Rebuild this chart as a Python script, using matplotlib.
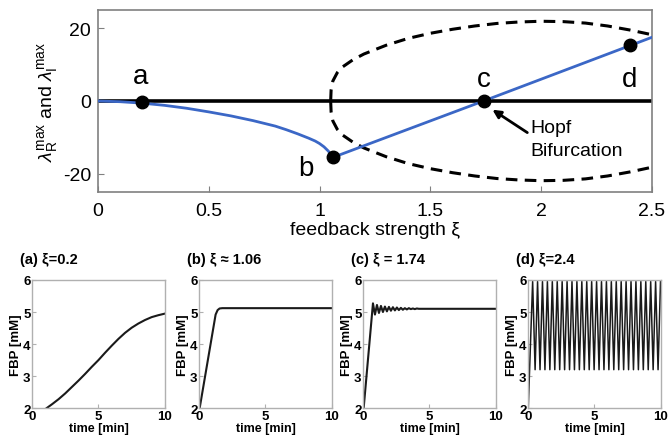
import matplotlib
matplotlib.use("Agg")
import matplotlib.pyplot as plt

plt.rcParams['font.family'] = ['Liberation Sans', 'DejaVu Sans']
plt.rcParams['mathtext.fontset'] = 'custom'
plt.rcParams['mathtext.rm'] = 'Liberation Sans'
plt.rcParams['mathtext.it'] = 'Liberation Sans:italic'
plt.rcParams['axes.unicode_minus'] = False

# --- top panel: max eigenvalue parts vs feedback strength ---
xi_re1 = [0, 0.1, 0.2, 0.3, 0.4, 0.5, 0.6, 0.7, 0.8, 0.85, 0.9, 0.95, 0.98, 1.0,
          1.02, 1.04, 1.05, 1.055, 1.06]
lam_re1 = [0, -0.2, -0.6, -1.2, -2.0, -3.0, -4.1, -5.4, -6.9, -7.9, -9.0, -10.2, -11.0,
           -11.7, -12.6, -13.8, -14.6, -15.1, -15.5]
xi_re2 = [1.06, 1.74, 2.5]
lam_re2 = [-15.5, 0, 17.5]
xi_im = [1.05, 1.052, 1.06, 1.08, 1.1, 1.15, 1.2, 1.3, 1.4, 1.5, 1.6, 1.7, 1.8, 1.9,
         2.0, 2.1, 2.2, 2.3, 2.4, 2.5]
lam_im = [0, 3, 5.5, 7.8, 9.2, 11.3, 12.9, 15.3, 17.2, 18.6, 19.7, 20.6, 21.3, 21.7,
          21.9, 21.8, 21.4, 20.6, 19.5, 18.2]
pt_labels = ['a', 'b', 'c', 'd']
pt_xi = [0.2, 1.06, 1.74, 2.4]
pt_lam = [-0.3, -15.5, 0, 15.5]

# --- bottom panels: FBP time courses ---
titles = ['(a) ξ=0.2', '(b) ξ ≈ 1.06', '(c) ξ = 1.74', '(d) ξ=2.4']
t_a = [1.1, 1.5, 2, 2.5, 3, 3.5, 4, 4.5, 5, 5.5, 6, 6.5, 7, 7.5, 8, 8.5, 9, 9.5, 10]
fbp_a = [2.0, 2.12, 2.28, 2.46, 2.66, 2.86, 3.07, 3.29, 3.5, 3.73, 3.95, 4.16, 4.35,
         4.51, 4.64, 4.75, 4.84, 4.9, 4.95]
t_b = [0.05, 1.25, 1.4, 1.55, 1.75, 10]
fbp_b = [2.0, 4.92, 5.06, 5.11, 5.12, 5.12]
t_c = [0.05, 0.75, 0.9, 1.05, 1.2, 1.35, 1.5, 1.65, 1.8, 1.95, 2.1, 2.25, 2.4, 2.55,
       2.7, 2.85, 3.0, 3.15, 3.3, 3.45, 3.6, 3.75, 3.9, 4.05, 4.2, 4.35, 10]
fbp_c = [2.0, 5.27, 4.92, 5.22, 4.97, 5.19, 5.0, 5.17, 5.02, 5.16, 5.04, 5.15, 5.05,
         5.14, 5.06, 5.13, 5.07, 5.12, 5.08, 5.12, 5.09, 5.11, 5.09, 5.11, 5.1, 5.1, 5.1]
peaks_d = [0.35, 0.72, 1.09, 1.46, 1.83, 2.2, 2.57, 2.94, 3.31, 3.68, 4.05, 4.42, 4.79,
           5.16, 5.53, 5.9, 6.27, 6.64, 7.01, 7.38, 7.75, 8.12, 8.49, 8.86, 9.23, 9.6, 9.97]
d_high = 5.95
d_low = 3.2

# build (d) polyline from the read peak times
t_d = [0.02]
fbp_d = [2.0]
for i, p in enumerate(peaks_d):
    t_d.append(p)
    fbp_d.append(d_high)
    if i + 1 < len(peaks_d):
        t_d.append((p + peaks_d[i + 1]) / 2)
        fbp_d.append(d_low)

fig = plt.figure(figsize=(6.68, 4.39), dpi=100)

frame_top = '#808080'
ax = fig.add_axes([0.1467, 0.5604, 0.8293, 0.4146])
ax.axhline(0, color='black', lw=2.6, zorder=2)
ax.plot(xi_im, lam_im, color='black', lw=2.2, dashes=(3.8, 2.4), zorder=2)
ax.plot(xi_im, [-v for v in lam_im], color='black', lw=2.2, dashes=(3.8, 2.4), zorder=2)
blue = '#3b67c6'
ax.plot(xi_re1, lam_re1, color=blue, lw=2, zorder=3)
ax.plot(xi_re2, lam_re2, color=blue, lw=2, zorder=3)
ax.plot(pt_xi, pt_lam, 'o', color='black', ms=9, zorder=4)
label_pos = [(0.19, 6.8), (0.94, -18.5), (1.74, 6.0), (2.4, 6.0)]
for lab, (lx, ly) in zip(pt_labels, label_pos):
    ax.text(lx, ly, lab, fontsize=20, ha='center', va='center')
ax.annotate('Hopf\nBifurcation', xy=(1.78, -2.4), xytext=(1.95, -10.5),
            fontsize=14, ha='left', va='center', linespacing=1.45,
            arrowprops=dict(arrowstyle='-|>', color='black', lw=2, mutation_scale=12,
                            shrinkA=0, shrinkB=0, relpos=(0, 0.62)))
ax.set_xlim(0, 2.5)
ax.set_ylim(-25, 25)
ax.set_xticks([0, 0.5, 1, 1.5, 2, 2.5])
ax.set_xticklabels(['0', '0.5', '1', '1.5', '2', '2.5'])
ax.set_yticks([-20, 0, 20])
ax.tick_params(direction='in', length=4, color=frame_top, labelsize=14, pad=5)
ax.tick_params(axis='x', pad=7)
for s in ax.spines.values():
    s.set_color(frame_top)
    s.set_linewidth(1.2)
ax.set_xlabel('feedback strength ξ', fontsize=14, labelpad=2)
ax.set_ylabel(r'$\lambda_{\rm R}^{\rm max}$ and $\lambda_{\rm I}^{\rm max}$', fontsize=14, labelpad=2)

lefts = [0.0479, 0.2979, 0.5434, 0.7904]
series = [(t_a, fbp_a), (t_b, fbp_b), (t_c, fbp_c), (t_d, fbp_d)]
frame_bot = '#b0b0b0'
for left, title, (tt, ff) in zip(lefts, titles, series):
    bx = fig.add_axes([left, 0.068, 0.199, 0.292])
    lw = 1.1 if title.startswith('(d)') else 1.5
    bx.plot(tt, ff, color='#1a1a1a', lw=lw)
    bx.set_xlim(0, 10)
    bx.set_ylim(2, 6)
    bx.set_xticks([0, 5, 10])
    bx.set_yticks([2, 3, 4, 5, 6])
    bx.tick_params(direction='in', length=3, color=frame_bot, labelsize=9.5, pad=1)
    for lab in bx.get_xticklabels() + bx.get_yticklabels():
        lab.set_fontweight('bold')
    for s in bx.spines.values():
        s.set_color(frame_bot)
        s.set_linewidth(1)
    bx.set_xlabel('time [min]', fontsize=9, fontweight='bold', labelpad=0)
    bx.set_ylabel('FBP [mM]', fontsize=9.5, fontweight='bold', labelpad=1)
    bx.text(-0.09, 1.16, title, transform=bx.transAxes, fontsize=10.5,
            fontweight='bold', ha='left', va='center')

fig.savefig('out.png', dpi=100)
